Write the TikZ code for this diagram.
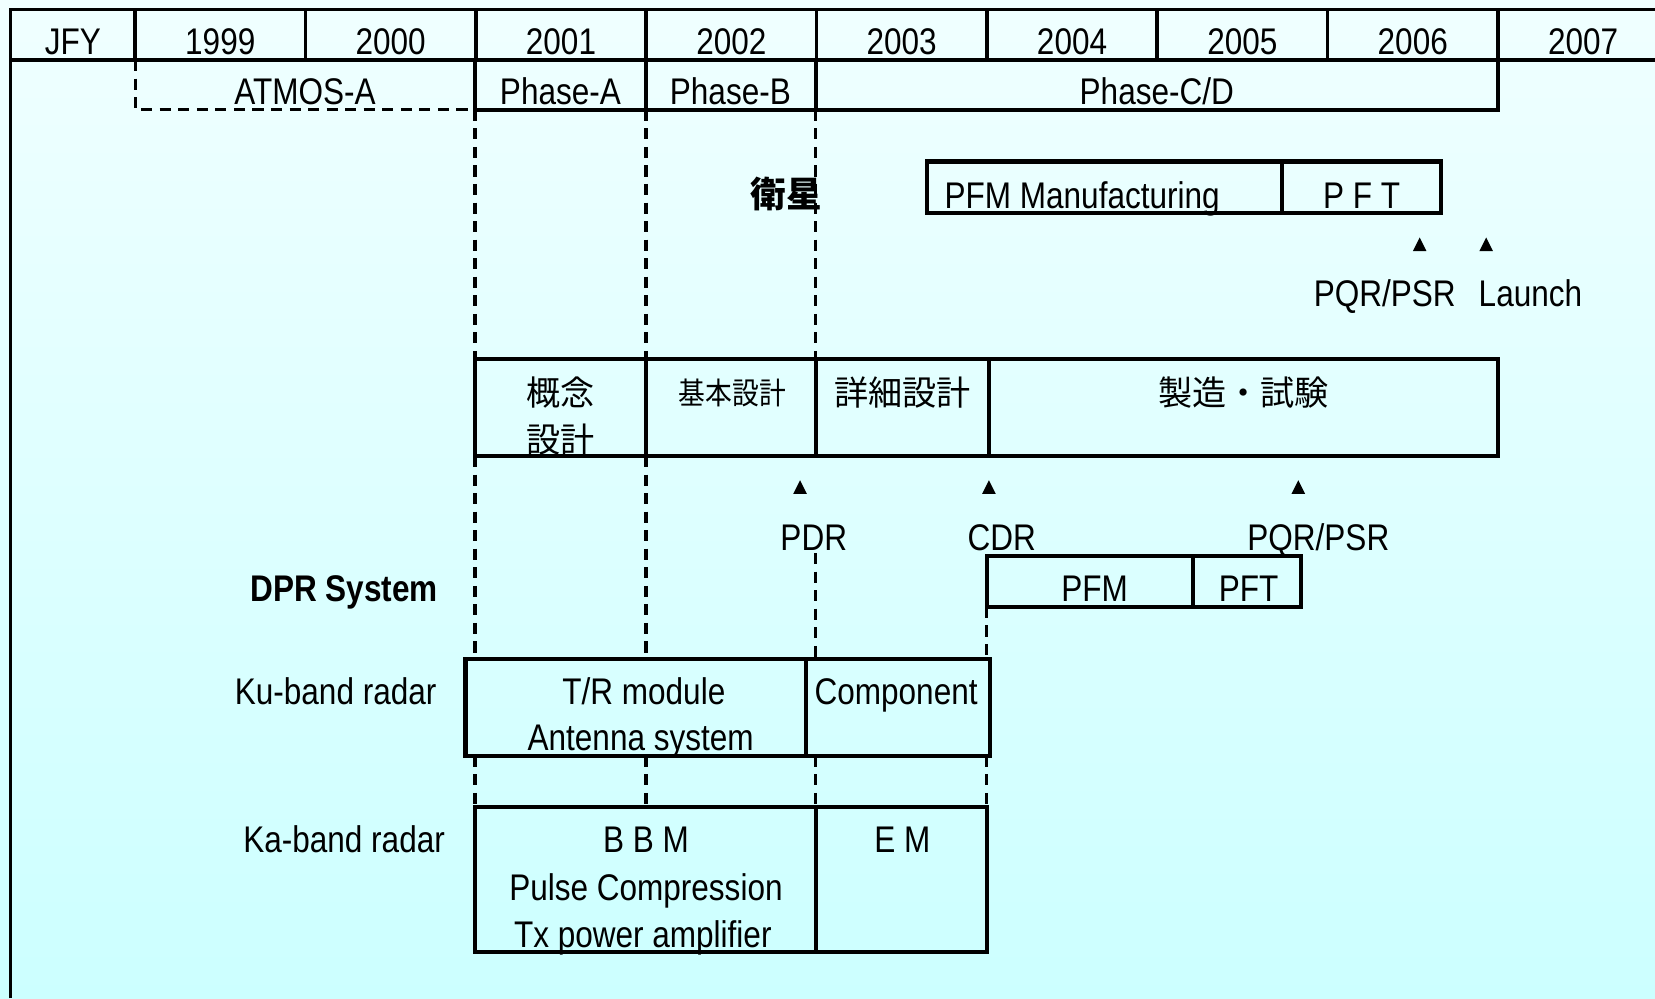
\documentclass[tikz,border=0pt]{standalone}
\usepackage{fontspec}
\setmainfont{Liberation Sans}[FakeStretch=0.85]
\newfontfamily\jpfont{Noto Sans CJK JP}
\usepackage{tikz}
\usetikzlibrary{calc, positioning}

\definecolor{bgtop}{RGB}{240,255,255}
\definecolor{bgbot}{RGB}{204,255,255}

\begin{document}
\begin{tikzpicture}[x=0.1mm, y=-0.1mm, line width=1.1pt,
    txt/.style={inner sep=0pt, anchor=base, font=\fontsize{10}{12}\selectfont},
    jtxt/.style={inner sep=0pt, anchor=base, font=\jpfont\fontsize{9.2}{11}\selectfont},
    guide/.style={line width=0.85pt, dash pattern=on 3pt off 2pt}]
    % 1. Nền
    \useasboundingbox (0,0) rectangle (1568,946);
    \shade[top color=bgtop, bottom color=bgbot] (0,0) rectangle (1568,946);

    % 2. Hàng năm
    \draw[line width=1pt] (10,946) -- (10,9) -- (1568,9);
    \draw[line width=1pt] (10,57) -- (1568,57);
    \foreach \i in {0,...,8}
        \draw[line width=1pt] ({128+161.4*\i},9) -- ({128+161.4*\i},57);
    \node[txt] (jfy) at (69,52) {JFY};
    \foreach \yr [count=\i from 0] in {1999,...,2007}
        \node[txt] (y\yr) at ({208.7+161.4*\i},52) {\yr};

    % 3. Các pha
    \draw[guide] (128,57) -- (128,104) -- (450,104);
    \draw (450,57) -- (450,104) -- (1419,104) -- (1419,57);
    \draw (612,57) -- (612,104);
    \draw (773,57) -- (773,104);
    \node[txt] (atmos) at (289,99) {ATMOS-A};
    \node[txt] (phA) at (531,99) {Phase-A};
    \node[txt] (phB) at (692,99) {Phase-B};
    \node[txt] (phCD) at (1096,99) {Phase-C/D};

    % 4. Vệ tinh
    \draw (878,153) rectangle (1365,202);
    \draw (1215,153) -- (1215,202);
    \node[jtxt, font=\jpfont\bfseries\fontsize{9.6}{11}\selectfont] (sat) at (745,197) {衛星};
    \node[txt, anchor=base west] (pfmmfg) at (893,198) {PFM Manufacturing};
    \node[txt] (pftsat) at (1290,198) {P F T};
    \node[txt] (pqrsat) at (1312,290) {PQR/PSR};
    \node[txt] (launch) at (1450,290) {Launch};

    % 5. Thiết kế
    \draw (450,340) rectangle (1419,432);
    \foreach \x in {612,773,937}
        \draw (\x,340) -- (\x,432);
    \node[jtxt] (gainen) at (531,384) {概念};
    \node[jtxt] (gsekkei) at (531,429) {設計};
    \node[jtxt, font=\jpfont\fontsize{8.2}{10}\selectfont] (kihon) at (694,383) {\addfontfeature{FakeStretch=0.88}基本設計};
    \node[jtxt] (shosai) at (855,384) {詳細設計};
    \node[jtxt] (seizo) at (1178,384) {製造・試験};
    \node[txt] (pdr) at (771,522) {PDR};
    \node[txt] (cdr) at (949,522) {CDR};
    \node[txt] (pqrdpr) at (1249,522) {PQR/PSR};

    % 6. Mốc (tam giác)
    \foreach \tx/\ty in {1345/232, 1408/232, 758/462, 937/462, 1230/462}
        \fill ({\tx-6.5},{\ty+6}) -- ({\tx+6.5},{\ty+6}) -- (\tx,{\ty-7}) -- cycle;

    % 7. DPR
    \node[txt, font=\bfseries\fontsize{10}{12}\selectfont] (dpr) at (326,570) {DPR System};
    \draw (935,527) rectangle (1233,575);
    \draw (1130,527) -- (1130,575);
    \node[txt] (pfm) at (1037,570) {PFM};
    \node[txt] (pft) at (1183,570) {PFT};

    % 8. Ku
    \node[txt] (ku) at (318,667) {Ku-band radar};
    \draw (441,624) rectangle (938,716);
    \draw (764,624) -- (764,716);
    \node[txt] (trmod) at (610,667) {T/R module};
    \node[txt] (antsys) at (607,711) {Antenna system};
    \node[txt] (comp) at (849,667) {Component};

    % 9. Ka
    \node[txt] (ka) at (326,808) {Ka-band radar};
    \draw (450,765) rectangle (935,902);
    \draw (773,765) -- (773,902);
    \node[txt] (bbm) at (612,808) {B B M};
    \node[txt] (pulse) at (612,853) {Pulse Compression};
    \node[txt] (txamp) at (609,898) {Tx power amplifier};
    \node[txt] (em) at (855,808) {E M};

    % 10. Đường gióng
    \foreach \x in {450,612}
        \draw[guide] (\x,104) -- (\x,340) (\x,432) -- (\x,624) (\x,716) -- (\x,765);
    \draw[guide] (773,104) -- (773,340) (773,524) -- (773,624) (773,716) -- (773,765);
    \draw[guide] (935,575) -- (935,624) (935,716) -- (935,765);
\end{tikzpicture}
\end{document}
